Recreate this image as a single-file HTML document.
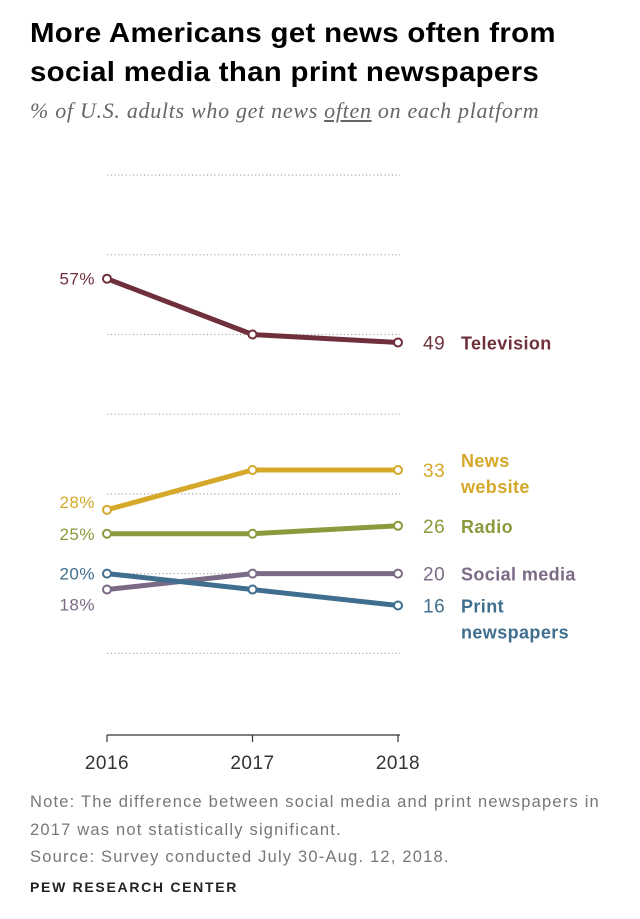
<!DOCTYPE html>
<html><head><meta charset="utf-8"><style>
body{margin:0;background:#fff;width:640px;height:919px;overflow:hidden;font-family:"Liberation Sans",sans-serif}
h1{position:absolute;left:30px;top:13px;margin:0;font-size:28px;line-height:39px;font-weight:bold;color:#000;letter-spacing:0.3px;transform:scaleX(1.05);transform-origin:left}
.sub{position:absolute;left:30px;top:98px;font-family:"Liberation Serif",serif;font-style:italic;font-size:22px;color:#666;letter-spacing:0.7px}
.note{position:absolute;left:30px;top:789px;font-size:16.5px;line-height:27.5px;color:#777;letter-spacing:1.2px}
.pew{position:absolute;left:30px;top:879px;font-size:14px;font-weight:bold;color:#222;letter-spacing:1.7px}
svg{position:absolute;left:0;top:0}
</style></head><body>
<h1>More Americans get news often from<br>social media than print newspapers</h1>
<div class="sub">% of U.S. adults who get news <u>often</u> on each platform</div>
<svg id="chart" width="640" height="919"></svg>
<div class="note">Note: The difference between social media and print newspapers in<br>2017 was not statistically significant.<br>Source: Survey conducted July 30-Aug. 12, 2018.</div>
<div class="pew">PEW RESEARCH CENTER</div>
<script>
const years=["2016","2017","2018"];
const television=[57,50,49];
const newsWebsite=[28,33,33];
const radio=[25,25,26];
const socialMedia=[18,20,20];
const printNewspapers=[20,18,16];
const gridTicks=[10,20,30,40,50,60,70];
const svg=document.getElementById('chart');
const NS='http://www.w3.org/2000/svg';
const x=i=>107+i*145.5;
const y=v=>733-v*7.97;
function mk(t,a){const e=document.createElementNS(NS,t);for(const k in a)e.setAttribute(k,a[k]);svg.appendChild(e);return e;}
gridTicks.forEach(t=>{const l=mk('line',{x1:107,x2:400,y1:y(t),y2:y(t),stroke:'#aaa','stroke-width':1.2,'stroke-dasharray':'1.2 2.5'});

});
const base=mk('line',{x1:107,x2:400,y1:735,y2:735,stroke:'#333','stroke-width':1.2});


years.forEach((yr,i)=>{const tk=mk('line',{x1:x(i),x2:x(i),y1:735,y2:742,stroke:'#333','stroke-width':1.2});


const t=mk('text',{x:x(i),y:769,'text-anchor':'middle','font-size':19,fill:'#333','letter-spacing':0.5});t.textContent=yr;

});
const series=[
 {name:'television',d:television,c:'#6f303c',label:['Television'],first:'57%',fy:0},
 {name:'news-website',d:newsWebsite,c:'#d6a82a',label:['News','website'],first:'28%',fy:-8},
 {name:'radio',d:radio,c:'#8a9a3c',label:['Radio'],first:'25%',fy:0},
 {name:'social-media',d:socialMedia,c:'#7b6a85',label:['Social media'],first:'18%',fy:15},
 {name:'print-newspapers',d:printNewspapers,c:'#3f6e8e',label:['Print','newspapers'],first:'20%',fy:0}
];
series.forEach(s=>{
 const p=mk('polyline',{points:s.d.map((v,i)=>x(i)+','+y(v)).join(' '),fill:'none',stroke:s.c,'stroke-width':5,'stroke-linejoin':'round'});
 
 
 s.d.forEach((v,i)=>{const c=mk('circle',{cx:x(i),cy:y(v),r:4,fill:'#fff',stroke:s.c,'stroke-width':2});
 
 });
 const f=mk('text',{x:95,y:y(s.d[0])+6+s.fy,'text-anchor':'end','font-size':17,fill:s.c,'letter-spacing':0.5});f.textContent=s.first;
 
 
 const ly=y(s.d[2])+7;
 const v=mk('text',{x:423,y:ly,'font-size':19,fill:s.c,'letter-spacing':0.5});v.textContent=s.d[2];
 
 
 const off=s.label.length>1&&s.name==='news-website'?-10:0;
 s.label.forEach((t,k)=>{const l=mk('text',{x:461,y:ly+off+k*26,'font-size':18,'font-weight':'bold',fill:s.c,'letter-spacing':0.4});l.textContent=t;
 
 });
});
</script>
</body></html>
